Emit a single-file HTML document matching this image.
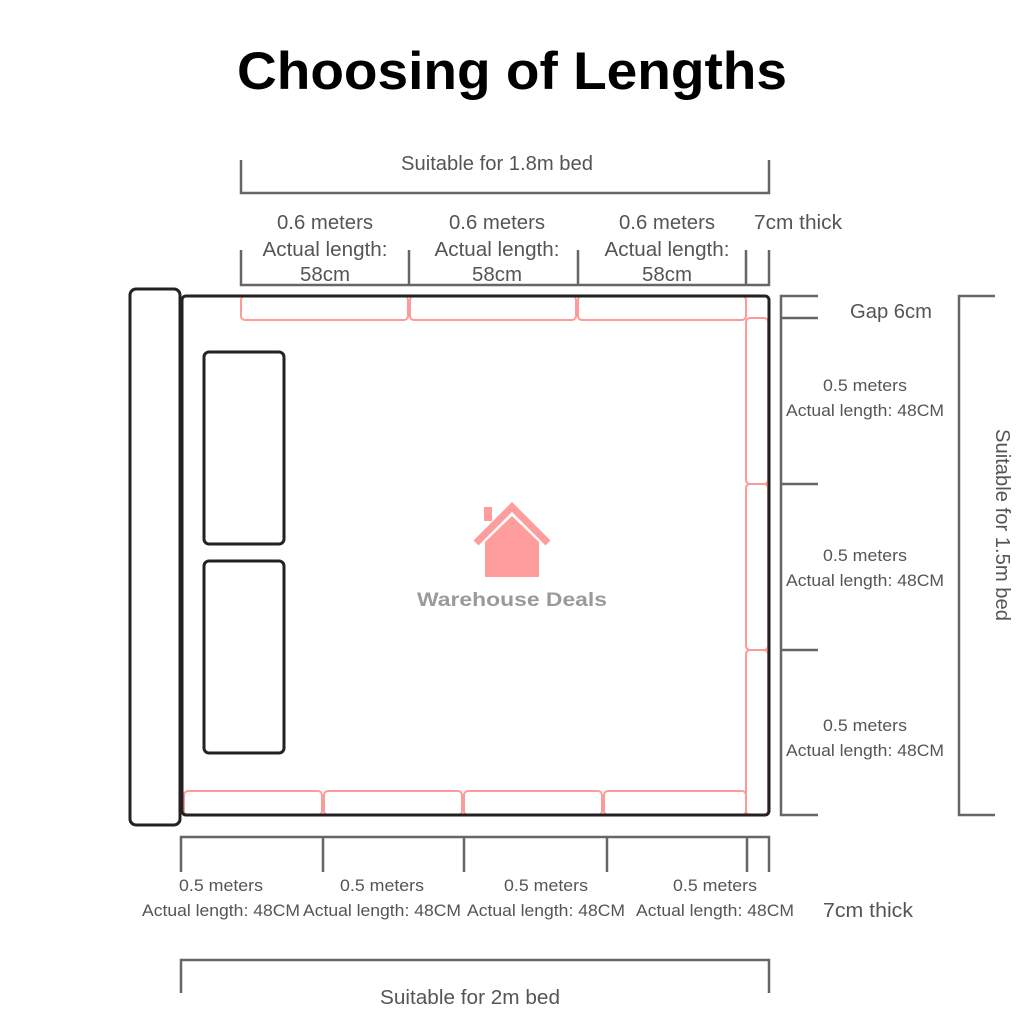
<!DOCTYPE html>
<html><head><meta charset="utf-8"><style>
html,body{margin:0;padding:0;background:#fff;}
svg{display:block;}
text{font-family:"Liberation Sans",sans-serif;fill:#555;}
</style></head><body>
<svg width="1024" height="1024" viewBox="0 0 1024 1024" xmlns="http://www.w3.org/2000/svg">
<text x="512" y="89" text-anchor="middle" textLength="550" lengthAdjust="spacingAndGlyphs" style="font-weight:bold;font-size:53px;fill:#000">Choosing of Lengths</text>

<g stroke="#666" stroke-width="2.5" fill="none">
<path d="M241 160V193H769V160"/>
<path d="M241 250V285H769V250M409 250V285M578 250V285M746 250V285"/>
<path d="M818 296H781V815H818M781 318H818M781 484H818M781 650H818"/>
<path d="M995 296H959V815H995"/>
<path d="M181 872V837H769V872M323 837V872M464 837V872M607 837V872M747 837V872"/>
<path d="M181 993V960H769V993"/>
</g>

<g stroke="#ff9a9a" stroke-width="2" fill="none">
<rect x="241" y="296" width="167" height="24" rx="4"/>
<rect x="410" y="296" width="166" height="24" rx="4"/>
<rect x="578" y="296" width="168" height="24" rx="4"/>
<rect x="746" y="318" width="22" height="166" rx="4"/>
<rect x="746" y="484" width="22" height="166" rx="4"/>
<rect x="746" y="650" width="22" height="165" rx="4"/>
<rect x="184" y="791" width="138" height="24" rx="4"/>
<rect x="324" y="791" width="138" height="24" rx="4"/>
<rect x="464" y="791" width="138" height="24" rx="4"/>
<rect x="604" y="791" width="142" height="24" rx="4"/>
</g>

<g stroke="#222" stroke-width="3" fill="none">
<rect x="130" y="289" width="50" height="536" rx="6"/>
<rect x="182" y="296" width="587" height="519" rx="4"/>
<rect x="204" y="352" width="80" height="192" rx="5"/>
<rect x="204" y="561" width="80" height="192" rx="5"/>
</g>

<!-- logo -->
<g fill="#ff9c9c">
<rect x="484" y="507" width="8" height="14"/>
<polyline points="476,543 512,507 548,543" fill="none" stroke="#ff9c9c" stroke-width="7"/>
<polygon points="485,542 512,516 539,542 539,577 485,577"/>
</g>
<text x="512" y="606" text-anchor="middle" textLength="190" lengthAdjust="spacingAndGlyphs" style="font-weight:bold;font-size:19px;fill:#9a9a9a">Warehouse Deals</text>

<g style="font-size:20px" text-anchor="middle">
<text x="497" y="170" textLength="192" lengthAdjust="spacingAndGlyphs">Suitable for 1.8m bed</text>
<text x="325" y="229" textLength="96" lengthAdjust="spacingAndGlyphs">0.6 meters</text>
<text x="325" y="256" textLength="125" lengthAdjust="spacingAndGlyphs">Actual length:</text>
<text x="325" y="281" textLength="50" lengthAdjust="spacingAndGlyphs">58cm</text>
<text x="497" y="229" textLength="96" lengthAdjust="spacingAndGlyphs">0.6 meters</text>
<text x="497" y="256" textLength="125" lengthAdjust="spacingAndGlyphs">Actual length:</text>
<text x="497" y="281" textLength="50" lengthAdjust="spacingAndGlyphs">58cm</text>
<text x="667" y="229" textLength="96" lengthAdjust="spacingAndGlyphs">0.6 meters</text>
<text x="667" y="256" textLength="125" lengthAdjust="spacingAndGlyphs">Actual length:</text>
<text x="667" y="281" textLength="50" lengthAdjust="spacingAndGlyphs">58cm</text>
<text x="798" y="229" textLength="88" lengthAdjust="spacingAndGlyphs">7cm thick</text>
<text x="891" y="318" textLength="82" lengthAdjust="spacingAndGlyphs">Gap 6cm</text>
<text x="990" y="525" transform="rotate(90 990 525)" textLength="192" lengthAdjust="spacingAndGlyphs" dy="-6">Suitable for 1.5m bed</text>
<text x="470" y="1004" textLength="180" lengthAdjust="spacingAndGlyphs">Suitable for 2m bed</text>
<text x="868" y="917" textLength="90" lengthAdjust="spacingAndGlyphs">7cm thick</text>
</g>
<g style="font-size:17px" text-anchor="middle">
<text x="865" y="391" textLength="84" lengthAdjust="spacingAndGlyphs">0.5 meters</text>
<text x="865" y="416" textLength="158" lengthAdjust="spacingAndGlyphs">Actual length: 48CM</text>
<text x="865" y="561" textLength="84" lengthAdjust="spacingAndGlyphs">0.5 meters</text>
<text x="865" y="586" textLength="158" lengthAdjust="spacingAndGlyphs">Actual length: 48CM</text>
<text x="865" y="731" textLength="84" lengthAdjust="spacingAndGlyphs">0.5 meters</text>
<text x="865" y="756" textLength="158" lengthAdjust="spacingAndGlyphs">Actual length: 48CM</text>
<text x="221" y="891" textLength="84" lengthAdjust="spacingAndGlyphs">0.5 meters</text>
<text x="221" y="916" textLength="158" lengthAdjust="spacingAndGlyphs">Actual length: 48CM</text>
<text x="382" y="891" textLength="84" lengthAdjust="spacingAndGlyphs">0.5 meters</text>
<text x="382" y="916" textLength="158" lengthAdjust="spacingAndGlyphs">Actual length: 48CM</text>
<text x="546" y="891" textLength="84" lengthAdjust="spacingAndGlyphs">0.5 meters</text>
<text x="546" y="916" textLength="158" lengthAdjust="spacingAndGlyphs">Actual length: 48CM</text>
<text x="715" y="891" textLength="84" lengthAdjust="spacingAndGlyphs">0.5 meters</text>
<text x="715" y="916" textLength="158" lengthAdjust="spacingAndGlyphs">Actual length: 48CM</text>
</g>
</svg>
</body></html>
